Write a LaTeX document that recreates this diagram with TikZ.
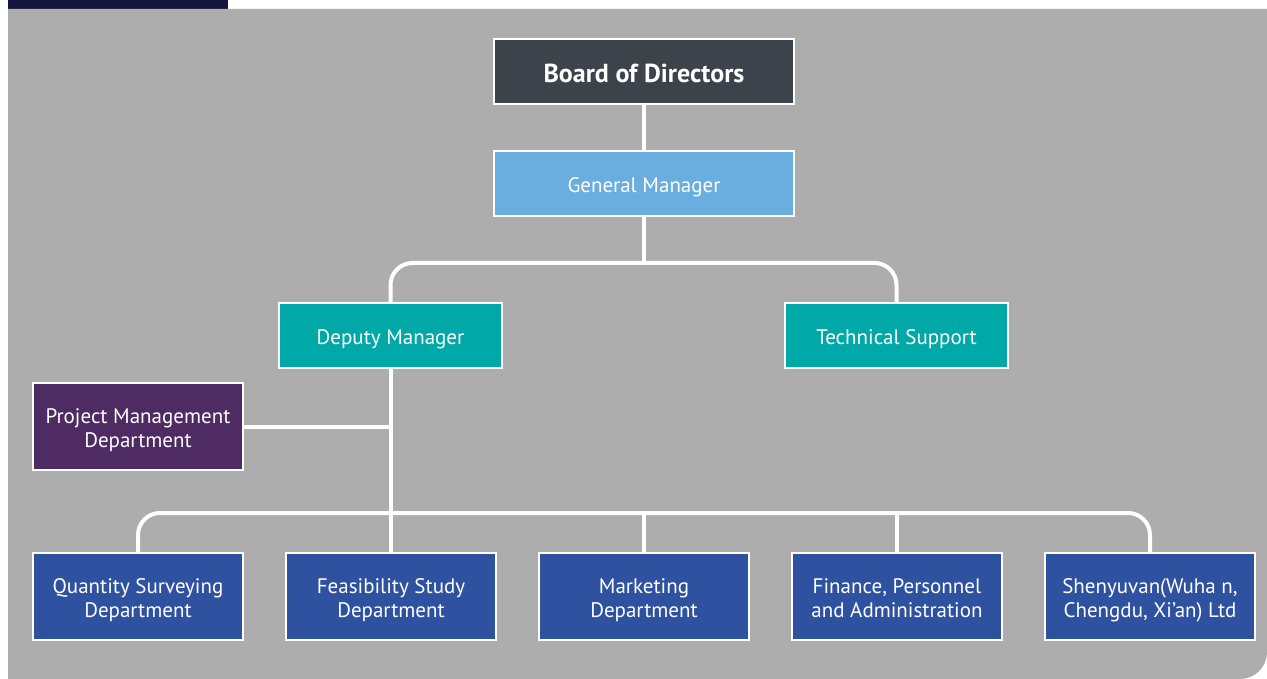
\documentclass[tikz,border=0pt]{standalone}
\usepackage{fontspec}
\setmainfont{PT Sans}
\definecolor{panel}{HTML}{ADADAD}
\definecolor{navy}{HTML}{14143C}
\definecolor{boardc}{HTML}{3D434B}
\definecolor{gmc}{HTML}{6AAEE0}
\definecolor{tealc}{HTML}{00A8A8}
\definecolor{purc}{HTML}{4E2B62}
\definecolor{bluec}{HTML}{2E52A0}
\newcommand{\lowr}{\rule{0pt}{23pt}}
\newcommand{\dpr}{\rule[-5pt]{0pt}{5pt}}
\begin{document}
\begin{tikzpicture}[x=1pt,y=-1pt,
  box/.style={draw=white,line width=2pt,text=white,align=center,font=\fontsize{21}{24}\selectfont,inner sep=0pt},
  link/.style={draw=white,line width=4pt,rounded corners=22pt}]
\useasboundingbox (0,0) rectangle (1267,679);
\fill[white] (0,0) rectangle (1267,679);
\fill[navy] (8,0) rectangle (228,9);
\fill[panel] (8,9) -- (1267,9) -- (1267,652) .. controls (1267,667) and (1255,679) .. (1240,679) -- (8,679) -- cycle;
% nodes
\node[box,fill=boardc,minimum width=300pt,minimum height=65pt,font=\bfseries\fontsize{26}{30}\selectfont] (bod) at (644,71.5) {\rule{0pt}{22pt}Board of Directors};
\node[box,fill=gmc,minimum width=300pt,minimum height=65pt] (gm) at (644,183.5) {\rule{0pt}{22pt}General Manager};
\node[box,fill=tealc,minimum width=223pt,minimum height=65pt] (dm) at (390.5,335.5) {\rule{0pt}{22pt}Deputy Manager};
\node[box,fill=tealc,minimum width=223pt,minimum height=65pt] (ts) at (896.5,335.5) {\rule{0pt}{22pt}Technical Support};
\node[box,fill=purc,minimum width=210pt,minimum height=87pt] (pm) at (138,426.5) {\lowr Project Management\\Department\dpr};
\node[box,fill=bluec,minimum width=210pt,minimum height=87pt] (qs) at (138,596.5) {\lowr Quantity Surveying\\Department\dpr};
\node[box,fill=bluec,minimum width=210pt,minimum height=87pt] (fs) at (391,596.5) {\lowr Feasibility Study\\Department\dpr};
\node[box,fill=bluec,minimum width=210pt,minimum height=87pt] (mk) at (644,596.5) {\lowr Marketing\\Department\dpr};
\node[box,fill=bluec,minimum width=210pt,minimum height=87pt] (fp) at (897,596.5) {\lowr Finance, Personnel\\and Administration\dpr};
\node[box,fill=bluec,minimum width=210pt,minimum height=87pt] (sy) at (1150,596.5) {\lowr Shenyuvan(Wuha n,\\Chengdu, Xi’an) Ltd\dpr};
\coordinate (j1) at (644,263);
\coordinate (j2) at (390.5,513);
% connectors
\draw[link] (bod.south) -- (gm.north);
\draw[link] (gm.south) -- (j1);
\draw[link] (dm.north) |- (j1) -| (ts.north);
\draw[link] (dm.south) -- (j2);
\draw[link] (pm.east) -- (pm.east -| dm.south);
\draw[link] (qs.north) |- (j2) -| (sy.north);
\draw[link] (fs.north) -- (fs.north |- j2);
\draw[link] (mk.north) -- (mk.north |- j2);
\draw[link] (fp.north) -- (fp.north |- j2);
\end{tikzpicture}
\end{document}
